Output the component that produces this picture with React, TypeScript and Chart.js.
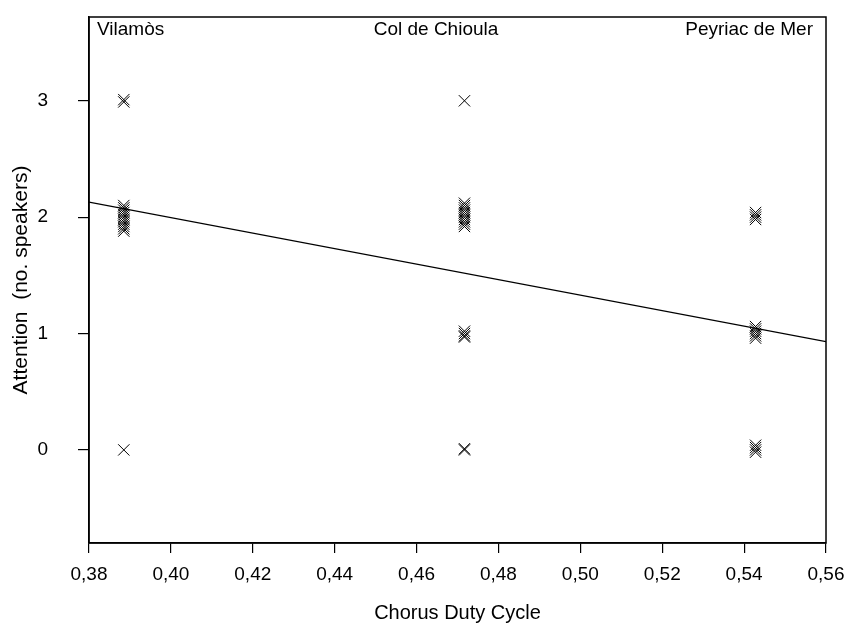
import React, { useEffect, useRef } from "react";
import { Chart, registerables } from "chart.js";

Chart.register(...registerables);

// Sites and their chorus duty cycle values
const siteNames = ["Vilamòs", "Col de Chioula", "Peyriac de Mer"];
const siteDutyCycle = [0.3885, 0.4717, 0.5428];

// Attention scores (no. speakers) per site
const vilamosAttention = [3.01, 2.99, 2.1, 2.08, 2.06, 2.04, 2.02, 2.0, 1.98, 1.96, 1.94, 1.92, 1.9, 1.88, 0.0];
const chioulaAttention = [3.0, 2.12, 2.1, 2.08, 2.06, 2.04, 2.02, 2.0, 1.98, 1.96, 1.94, 1.92, 1.02, 1.0, 0.98, 0.97, 0.01, 0.0];
const peyriacAttention = [2.04, 2.02, 2.0, 1.98, 1.06, 1.04, 1.02, 1.0, 0.98, 0.96, 0.04, 0.02, 0.0, -0.02];

// Regression line endpoints
const regressionX = [0.38, 0.56];
const regressionY = [2.13, 0.93];

// Axis ticks
const xTicks = [0.38, 0.4, 0.42, 0.44, 0.46, 0.48, 0.5, 0.52, 0.54, 0.56];
const yTicks = [0, 1, 2, 3];

const FONT = "'Liberation Sans', Arial, sans-serif";

export default function App() {
  const ref = useRef<HTMLCanvasElement | null>(null);

  useEffect(() => {
    if (!ref.current) return;
    const allY = [vilamosAttention, chioulaAttention, peyriacAttention];
    const points: { x: number; y: number }[] = [];
    allY.forEach((arr, i) => arr.forEach((y) => points.push({ x: siteDutyCycle[i], y })));

    const framePlugin = {
      id: "frame",
      afterDraw(chart: any) {
        const { ctx, chartArea } = chart;
        ctx.save();
        ctx.strokeStyle = "#000";
        ctx.lineWidth = 1.5;
        ctx.strokeRect(chartArea.left, chartArea.top, chartArea.right - chartArea.left, chartArea.bottom - chartArea.top);
        ctx.fillStyle = "#000";
        ctx.font = `19px ${FONT}`;
        ctx.textBaseline = "middle";
        const y = chartArea.top + 13;
        ctx.textAlign = "left";
        ctx.fillText(siteNames[0], chartArea.left + 8, y);
        ctx.textAlign = "center";
        ctx.fillText(siteNames[1], 436, y);
        ctx.textAlign = "right";
        ctx.fillText(siteNames[2], chartArea.right - 13, y);
        ctx.restore();
      },
    };

    const chart = new Chart(ref.current, {
      type: "scatter",
      data: {
        datasets: [
          {
            label: "Attention",
            data: points,
            pointStyle: "crossRot",
            pointRadius: 8,
            borderColor: "#000",
            backgroundColor: "#000",
            borderWidth: 1,
          },
          {
            type: "line",
            label: "Regression",
            data: regressionX.map((x, i) => ({ x, y: regressionY[i] })),
            borderColor: "#000",
            borderWidth: 1.2,
            pointRadius: 0,
            fill: false,
          } as any,
        ],
      },
      options: {
        responsive: false,
        animation: false,
        layout: { autoPadding: false, padding: { top: 17, right: 22, left: 0, bottom: 0 } },
        plugins: { legend: { display: false }, tooltip: { enabled: false } },
        scales: {
          x: {
            type: "linear",
            min: 0.38,
            max: 0.56,
            afterBuildTicks: (s: any) => {
              s.ticks = xTicks.map((v) => ({ value: v }));
            },
            afterFit: (s: any) => {
              s.height = 89;
              s.paddingLeft = 0;
              s.paddingRight = 0;
            },
            grid: { drawOnChartArea: false, drawTicks: true, tickLength: 10, color: "#000", lineWidth: 1.2 },
            border: { display: true, color: "#000", width: 1.5 },
            ticks: {
              color: "#000",
              font: { family: FONT, size: 19 },
              padding: 10,
              maxRotation: 0,
              callback: (v: any) => Number(v).toFixed(2).replace(".", ","),
            },
            title: {
              display: true,
              text: "Chorus Duty Cycle",
              color: "#000",
              font: { family: FONT, size: 20 },
              padding: { top: 0, bottom: 7 },
            },
          },
          y: {
            type: "linear",
            min: -0.8,
            max: 3.72,
            afterBuildTicks: (s: any) => {
              s.ticks = yTicks.map((v) => ({ value: v }));
            },
            afterFit: (s: any) => {
              s.width = 89;
              s.paddingTop = 0;
              s.paddingBottom = 0;
            },
            grid: { drawOnChartArea: false, drawTicks: true, tickLength: 11, color: "#000", lineWidth: 1.2 },
            border: { display: true, color: "#000", width: 1.5 },
            ticks: {
              color: "#000",
              font: { family: FONT, size: 19 },
              padding: 30,
              callback: (v: any) => String(v),
            },
            title: {
              display: true,
              text: "Attention  (no. speakers)",
              color: "#000",
              font: { family: FONT, size: 21 },
              padding: { top: 9, bottom: 0 },
            },
          },
        },
      },
      plugins: [framePlugin],
    });
    return () => chart.destroy();
  }, []);

  return (
    <div style={{ position: "absolute", left: 0, top: 0, width: 848, height: 632, background: "#fff" }}>
      <canvas ref={ref} width={848} height={632} style={{ display: "block" }} />
    </div>
  );
}
